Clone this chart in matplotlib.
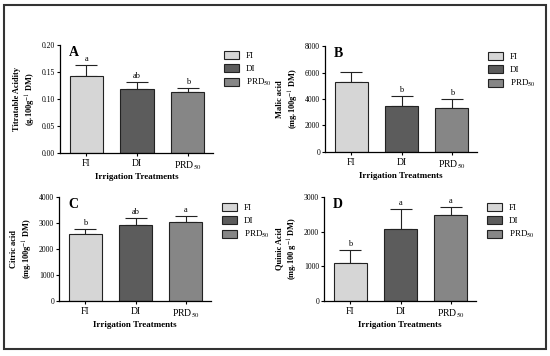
import matplotlib
matplotlib.use("Agg")
import matplotlib.pyplot as plt
from matplotlib.patches import Rectangle

plt.rcParams['font.family'] = ['Liberation Serif', 'DejaVu Serif']
plt.rcParams['mathtext.fontset'] = 'stix'

categories = ['FI', 'DI', 'PRD$_{50}$']
legend_labels = ['FI', 'DI', 'PRD$_{50}$']
colors = ['#d6d6d6', '#5c5c5c', '#868686']

acid_A = [0.143, 0.119, 0.113]
err_A = [0.020, 0.013, 0.008]
let_A = ['a', 'ab', 'b']

malic_B = [5300, 3500, 3350]
err_B = [750, 700, 650]
let_B = ['', 'b', 'b']

citric_C = [2560, 2940, 3040]
err_C = [210, 260, 240]
let_C = ['b', 'ab', 'a']

quinic_D = [1100, 2080, 2480]
err_D = [380, 560, 220]
let_D = ['b', 'a', 'a']

panels = [
    dict(vals=acid_A, err=err_A, let=let_A, ylim=0.20, ticks=[0, 0.05, 0.10, 0.15, 0.20],
         fmt='{:.2f}', ylabel='Titratable Acidity\n(g.100g$^{-1}$ DM)', tag='A',
         rect=[60/550, 1-153/356, 153/550, 108/356]),
    dict(vals=malic_B, err=err_B, let=let_B, ylim=8000, ticks=[0, 2000, 4000, 6000, 8000],
         fmt='{:.0f}', ylabel='Malic acid\n(mg.100g$^{-1}$ DM)', tag='B',
         rect=[325/550, 1-152/356, 152/550, 106/356]),
    dict(vals=citric_C, err=err_C, let=let_C, ylim=4000, ticks=[0, 1000, 2000, 3000, 4000],
         fmt='{:.0f}', ylabel='Citric acid\n(mg.100g$^{-1}$ DM)', tag='C',
         rect=[59/550, 1-301/356, 152/550, 104/356]),
    dict(vals=quinic_D, err=err_D, let=let_D, ylim=3000, ticks=[0, 1000, 2000, 3000],
         fmt='{:.0f}', ylabel='Quinic Acid\n(mg.100 g$^{-1}$ DM)', tag='D',
         rect=[324/550, 1-301/356, 152/550, 104/356]),
]

fig = plt.figure(figsize=(5.5, 3.56), dpi=100)
fig.patch.set_facecolor('white')
fig.add_artist(Rectangle((4/550, 1-349/356), 542/550, 344/356, transform=fig.transFigure,
                         fill=False, edgecolor='#333333', linewidth=1.5))

x = [0, 1, 2]
for p in panels:
    ax = fig.add_axes(p['rect'])
    ax.bar(x, p['vals'], width=0.66, color=colors, edgecolor='#222222', linewidth=0.8,
           zorder=2)
    ax.errorbar(x, p['vals'], yerr=[[0, 0, 0], p['err']], fmt='none', ecolor='#222222',
                elinewidth=0.8, capsize=8, capthick=0.8, zorder=1)
    for xi, v, e, l in zip(x, p['vals'], p['err'], p['let']):
        if l:
            ax.text(xi, v + e + p['ylim'] * 0.02, l, ha='center', va='bottom', fontsize=6)
    ax.set_xlim(-0.52, 2.5)
    ax.set_ylim(0, p['ylim'])
    ax.set_yticks(p['ticks'])
    ax.set_yticklabels([p['fmt'].format(t) for t in p['ticks']], fontsize=5.5)
    ax.set_xticks(x)
    ax.set_xticklabels(categories, fontsize=7)
    ax.tick_params(axis='y', length=2.5, width=0.8, pad=1)
    ax.tick_params(axis='x', length=2.5, width=0.8, pad=2)
    for s in ['top', 'right']:
        ax.spines[s].set_visible(False)
    for s in ['left', 'bottom']:
        ax.spines[s].set_linewidth(0.9)
    ax.set_ylabel(p['ylabel'], fontsize=6, fontweight='bold', labelpad=3, linespacing=1.3)
    ax.set_xlabel('Irrigation Treatments', fontsize=6.5, fontweight='bold', labelpad=1)
    ax.text(0.06, 0.99, p['tag'], transform=ax.transAxes, fontsize=10, fontweight='bold',
            ha='left', va='top')
    handles = [Rectangle((0, 0), 1, 1, facecolor=c, edgecolor='#222222', linewidth=0.8)
               for c in colors]
    ax.legend(handles, legend_labels, loc='upper left', bbox_to_anchor=(1.05, 0.98),
              frameon=False, fontsize=6.5, handlelength=1.6, handleheight=1.0,
              labelspacing=0.45, handletextpad=0.8, borderaxespad=0)

fig.savefig('out.png', dpi=100, facecolor='white')
